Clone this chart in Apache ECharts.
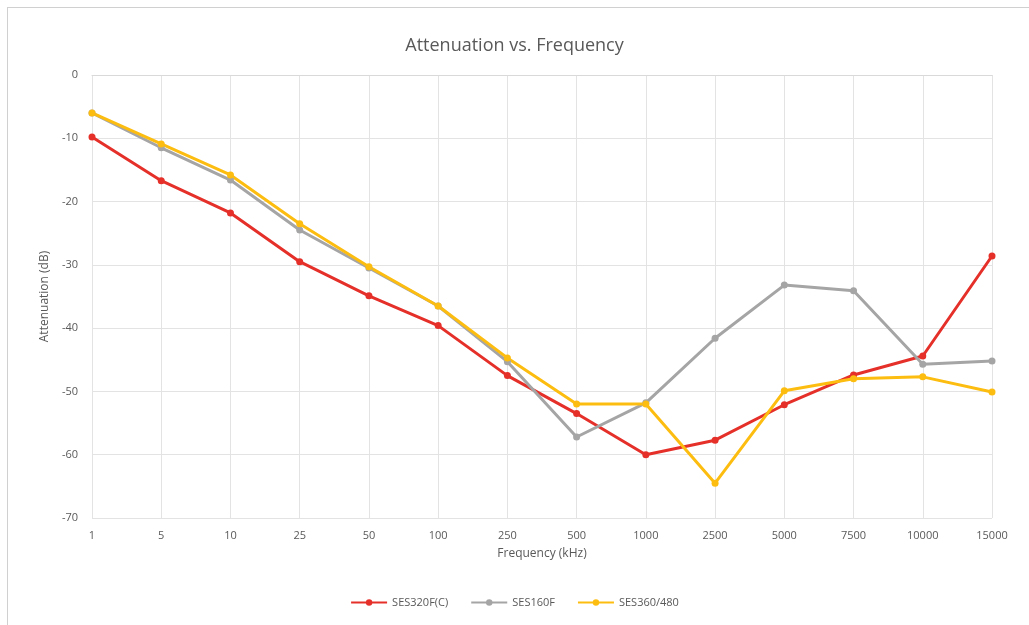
<!DOCTYPE html>
<html>
<head>
<meta charset="utf-8">
<script src="https://cdn.jsdelivr.net/npm/echarts@6/dist/echarts.min.js"></script>
<style>
  html, body { margin: 0; padding: 0; background: #fff; }
  #frame { position: absolute; left: 7px; top: 7px; width: 1030px; height: 630px; border: 1px solid #d0d0d0; box-sizing: border-box; }
  #chart { position: absolute; left: 0; top: 0; width: 1029px; height: 625px; }
</style>
</head>
<body>
<div id="frame"></div>
<div id="chart"></div>
<script>
const categories = ['1', '5', '10', '25', '50', '100', '250', '500', '1000', '2500', '5000', '7500', '10000', '15000'];
const ses320 = [-9.8, -16.7, -21.8, -29.5, -34.9, -39.6, -47.5, -53.5, -60.0, -57.7, -52.1, -47.4, -44.4, -28.6];
const ses160 = [-6.0, -11.5, -16.6, -24.5, -30.5, -36.5, -45.3, -57.2, -51.8, -41.6, -33.2, -34.1, -45.7, -45.2];
const ses360 = [-6.0, -10.9, -15.8, -23.5, -30.3, -36.5, -44.7, -52.0, -52.0, -64.5, -49.9, -48.0, -47.7, -50.1];

const font = "'Open Sans', sans-serif";
const chart = echarts.init(document.getElementById('chart'));

const mkSeries = (name, data, color) => ({
  name,
  type: 'line',
  data,
  symbol: 'circle',
  symbolSize: 7,
  lineStyle: { width: 3, color },
  itemStyle: { color },
  z: 2
});

chart.setOption({
  animation: false,
  textStyle: { fontFamily: font },
  title: {
    text: 'Attenuation vs. Frequency',
    left: 'center',
    top: 32,
    textStyle: { fontFamily: font, fontSize: 18, fontWeight: 'normal', color: '#595959' }
  },
  legend: {
    bottom: 12,
    left: 'center',
    itemWidth: 36,
    itemHeight: 8,
    itemGap: 22,
    textStyle: { fontFamily: font, fontSize: 11, color: '#595959' },
    data: ['SES320F(C)', 'SES160F', 'SES360/480']
  },
  grid: { left: 92, right: 37, top: 75, bottom: 107 },
  xAxis: {
    type: 'category',
    data: categories,
    boundaryGap: false,
    name: 'Frequency (kHz)',
    nameLocation: 'middle',
    nameGap: 30,
    nameTextStyle: { fontFamily: font, fontSize: 12, color: '#595959' },
    axisLine: { lineStyle: { color: '#d9d9d9' } },
    axisTick: { show: false },
    axisLabel: { color: '#595959', fontSize: 11, margin: 12 },
    splitLine: { show: true, lineStyle: { color: '#e3e3e3' } }
  },
  yAxis: {
    type: 'value',
    min: -70,
    max: 0,
    interval: 10,
    name: 'Attenuation (dB)',
    nameLocation: 'middle',
    nameGap: 36,
    nameTextStyle: { fontFamily: font, fontSize: 12, color: '#595959' },
    axisLine: { show: false },
    axisTick: { show: false },
    axisLabel: { color: '#595959', fontSize: 11, margin: 14 },
    splitLine: { lineStyle: { color: '#e3e3e3' } }
  },
  series: [
    mkSeries('SES320F(C)', ses320, '#e5302a'),
    mkSeries('SES160F', ses160, '#a5a5a5'),
    mkSeries('SES360/480', ses360, '#fdbd10')
  ]
});
</script>
</body>
</html>
